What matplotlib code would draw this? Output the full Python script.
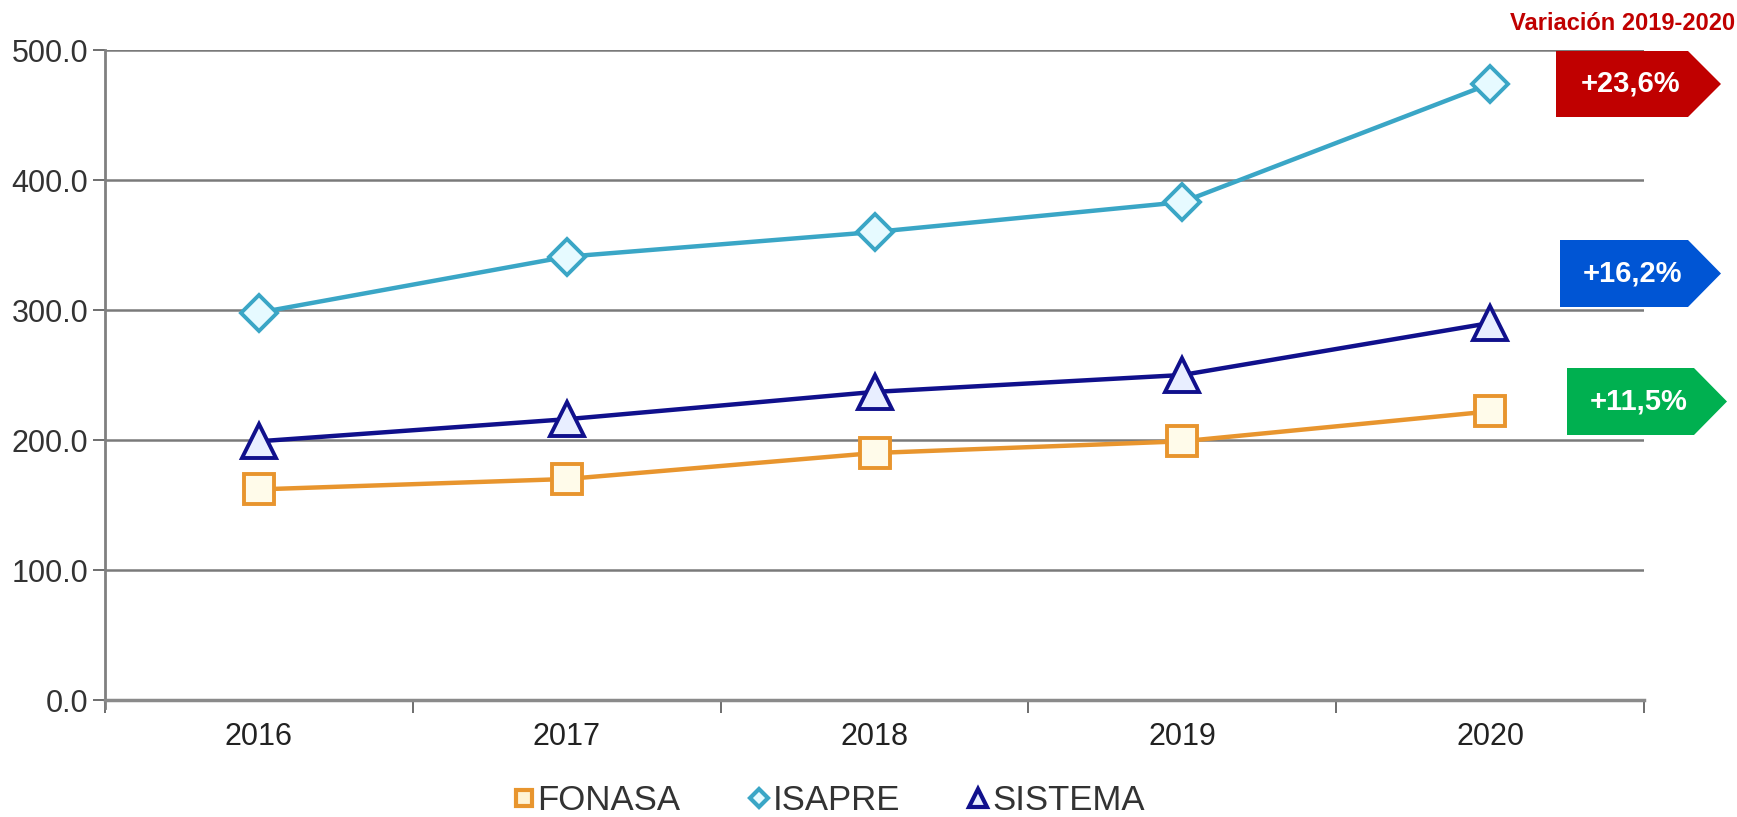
import matplotlib.pyplot as plt
from matplotlib.patches import Polygon
from matplotlib.lines import Line2D

# Datos
anios = ['2016', '2017', '2018', '2019', '2020']
fonasa = [162, 170, 190, 199, 222]
isapre = [298, 341, 360, 383, 474]
sistema = [199, 216, 237, 250, 290]

variaciones = ['+23,6%', '+16,2%', '+11,5%']
colores_var = ['#C00000', '#0055D4', '#00B050']

plt.rcParams['font.family'] = ['Liberation Sans', 'DejaVu Sans']

W, H = 1737, 817
fig = plt.figure(figsize=(W / 100, H / 100), dpi=100)
ax = fig.add_axes([105 / W, 1 - 700 / H, (1644 - 105) / W, (700 - 50) / H])

x = range(len(anios))
ax.plot(x, fonasa, color='#E8952E', lw=3.2, marker='s', ms=21,
        mfc='#FFFBEA', mec='#E8952E', mew=2.8, zorder=3)
ax.plot(x, isapre, color='#3AA6C6', lw=3.2, marker='D', ms=18,
        mfc='#E6FAFF', mec='#3AA6C6', mew=2.8, zorder=3)
ax.plot(x, sistema, color='#10108C', lw=3.2, marker='^', ms=24,
        mfc='#E8EEFF', mec='#10108C', mew=2.8, zorder=3)

ax.set_xlim(-0.5, len(anios) - 0.5)
ax.set_ylim(0, 500)
ax.set_yticks(range(0, 501, 100))
ax.set_yticklabels([f'{v:.1f}' for v in range(0, 501, 100)])
ax.set_xticks(list(x))
ax.set_xticklabels(anios)
ax.set_xticks([i - 0.5 for i in range(len(anios) + 1)], minor=True)
ax.tick_params(axis='x', which='major', length=0, pad=16, labelsize=22, colors='#222222')
ax.tick_params(axis='x', which='minor', length=9, width=1.2, color='#555555')
ax.tick_params(axis='y', length=9, width=1.2, color='#555555', pad=3,
               labelsize=22, labelcolor='#333333')

ax.grid(axis='y', color='#7a7a7a', lw=1.8)
ax.set_axisbelow(True)
for s in ['top', 'right']:
    ax.spines[s].set_visible(False)
ax.spines['left'].set_color('#808080')
ax.spines['left'].set_linewidth(2)
ax.spines['left'].set_bounds(-6, 500)
ax.spines['bottom'].set_color('#8a8a8a')
ax.spines['bottom'].set_linewidth(2.5)

# Etiquetas de variación (flechas)
def etiqueta(x0, xp, xt, y0, y1, color, texto):
    pts = [(x0, y0), (xp, y0), (xt, (y0 + y1) / 2), (xp, y1), (x0, y1)]
    pts = [(px / W, 1 - py / H) for px, py in pts]
    fig.patches.append(Polygon(pts, closed=True, facecolor=color, edgecolor='none',
                               transform=fig.transFigure))
    fig.text((x0 + xt) / 2 / W - 8 / W, 1 - (y0 + y1) / 2 / H, texto, color='white',
             fontsize=21, fontweight='bold', ha='center', va='center')

etiqueta(1556, 1688, 1721, 51, 117, colores_var[0], variaciones[0])
etiqueta(1560, 1688, 1721, 240, 307, colores_var[1], variaciones[1])
etiqueta(1567, 1694, 1727, 368, 435, colores_var[2], variaciones[2])

fig.text(1735 / W, 1 - 24 / H, 'Variación 2019-2020', color='#C00000',
         fontsize=17, fontweight='bold', ha='right', va='center')

# Leyenda
handles = [
    Line2D([], [], ls='none', marker='s', ms=12, mfc='#FFF4D6', mec='#E8952E', mew=3),
    Line2D([], [], ls='none', marker='D', ms=9, mfc='#E6FAFF', mec='#3AA6C6', mew=3),
    Line2D([], [], ls='none', marker='^', ms=13, mfc='#E8EEFF', mec='#10108C', mew=3),
]
fig.legend(handles, ['FONASA', 'ISAPRE', 'SISTEMA'], loc='center',
           bbox_to_anchor=(828 / W, 1 - 801 / H), ncol=3, frameon=False,
           handlelength=0.7, handletextpad=0.05, columnspacing=1.9,
           fontsize=25, labelcolor='#333333')

fig.savefig('out.png', dpi=100)
